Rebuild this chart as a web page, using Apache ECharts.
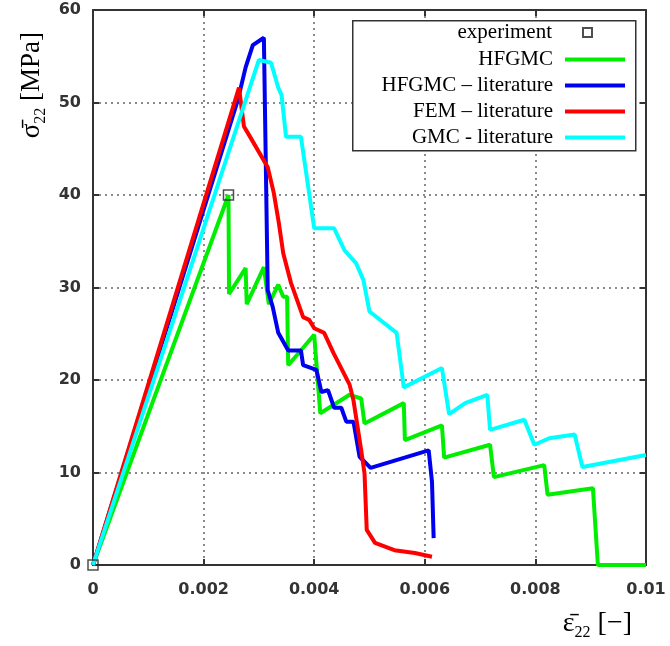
<!DOCTYPE html>
<html><head><meta charset="utf-8">
<script src="https://cdn.jsdelivr.net/npm/echarts@6/dist/echarts.min.js"></script>
<style>html,body{margin:0;padding:0;background:#fff}#c{width:670px;height:646px}</style>
</head><body><div id="c"></div>
<script>
// strain [-], stress [MPa]
const experiment = [[0, 0], [0.00245, 40]];
const hfgmc = [[0,0],[0.00245,40],[0.00246,29.3],[0.00276,32.1],[0.00278,28.2],[0.00309,32.2],[0.00318,28.2],[0.00335,30.3],[0.00344,29.0],[0.00351,29.0],[0.00353,21.6],[0.0040,24.9],[0.00411,16.4],[0.00464,18.4],[0.00485,18.0],[0.00491,15.3],[0.00562,17.5],[0.00564,13.5],[0.00631,15.1],[0.00635,11.6],[0.00718,13.0],[0.00725,9.5],[0.00816,10.8],[0.00822,7.6],[0.00904,8.3],[0.00913,0],[0.01,0]];
const hfgmcLit = [[0,0],[0.00262,50.3],[0.00276,53.8],[0.00289,56.2],[0.00309,57.0],[0.00316,29.7],[0.00325,27.9],[0.00335,25.1],[0.00353,23.2],[0.00376,23.2],[0.0038,21.6],[0.00404,21.1],[0.00413,18.7],[0.00425,18.9],[0.00436,17.0],[0.00449,17.0],[0.00458,15.5],[0.00471,15.5],[0.00482,11.7],[0.00502,10.5],[0.00607,12.4],[0.00613,9.0],[0.00616,2.9]];
const femLit = [[0,0],[0.00264,51.6],[0.00273,47.4],[0.00282,46.5],[0.00316,43.0],[0.00327,40.2],[0.00336,37.0],[0.00344,33.7],[0.00358,30.5],[0.0038,26.8],[0.00391,26.5],[0.0040,25.6],[0.00418,25.1],[0.00435,22.9],[0.00464,19.5],[0.00471,17.8],[0.00485,12.4],[0.00491,9.9],[0.00495,3.8],[0.0051,2.4],[0.00545,1.6],[0.00582,1.3],[0.00613,0.9]];
const gmcLit = [[0,0],[0.0030,54.6],[0.00322,54.3],[0.00335,51.6],[0.00341,50.8],[0.00349,46.3],[0.00376,46.3],[0.0040,36.4],[0.00436,36.4],[0.00455,34.0],[0.00476,32.6],[0.00489,30.8],[0.0050,27.4],[0.00549,25.1],[0.00562,19.2],[0.00631,21.3],[0.00644,16.3],[0.00673,17.5],[0.00713,18.4],[0.00718,14.6],[0.0078,15.7],[0.00798,13.0],[0.00825,13.7],[0.00871,14.1],[0.00885,10.6],[0.01,11.9]];
const seriesNames = ['experiment', 'HFGMC', 'HFGMC – literature', 'FEM – literature', 'GMC - literature'];
const colors = ['#000000', '#00ee00', '#0000f0', '#ff0000', '#00ffff'];
const xRange = [0, 0.01, 0.002];
const yRange = [0, 60, 10];

const chart = echarts.init(document.getElementById('c'), null, {renderer: 'canvas'});
const axisLineStyle = {color: '#333', width: 2};
const tickLabel = {color: '#333', fontFamily: 'DejaVu Sans', fontWeight: 'bold', fontSize: 16};
const serif = 'Liberation Serif';
function lineSeries(i, data) {
  return {name: seriesNames[i], type: 'line', data: data, symbol: 'none', showSymbol: false,
    lineStyle: {color: colors[i], width: 4}, itemStyle: {color: colors[i]}, animation: false};
}
chart.setOption({
  animation: false,
  backgroundColor: '#fff',
  grid: {left: 93, right: 24, top: 10, bottom: 81},
  graphic: [{type: 'rect', left: 352, top: 20, z: 3,
    shape: {width: 283, height: 130}, style: {fill: '#fff', stroke: '#333', lineWidth: 1.5}}],
  legend: [
    {data: [seriesNames[0]], orient: 'vertical', align: 'right', right: 77, top: 22, padding: 0,
     itemWidth: 9, itemHeight: 9, z: 5,
     textStyle: {fontFamily: serif, fontSize: 21, color: '#000', padding: [0, 26, 0, 0]}},
    {data: seriesNames.slice(1).map(n => ({name: n, icon: 'rect'})), orient: 'vertical', align: 'right', right: 45, top: 49, padding: 0,
     itemWidth: 60, itemHeight: 4, itemGap: 5, z: 5,
     textStyle: {fontFamily: serif, fontSize: 21, color: '#000', padding: [0, 7, 0, 0]}}
  ],
  xAxis: [
    {type: 'value', min: xRange[0], max: xRange[1], interval: xRange[2], position: 'bottom',
     axisLine: {show: true, onZero: false, lineStyle: axisLineStyle},
     axisTick: {show: true, inside: true, length: 6, lineStyle: axisLineStyle},
     axisLabel: Object.assign({margin: 17, formatter: v => String(+v.toFixed(4))}, tickLabel),
     splitLine: {show: true, lineStyle: {type: [2, 4], color: '#666', width: 1.5}},
     name: '{g|ε\u0304}{s|22}{g| [−]}', nameLocation: 'end', nameGap: -14, nameMoveOverlap: false,
     nameTextStyle: {align: 'right', verticalAlign: 'top', padding: [42, 0, 0, 0],
       rich: {g: {fontFamily: serif, fontSize: 28, color: '#000', lineHeight: 34},
              s: {fontFamily: serif, fontSize: 16, color: '#000', verticalAlign: 'bottom', lineHeight: 15}}}},
    {type: 'value', min: xRange[0], max: xRange[1], interval: xRange[2], position: 'top',
     axisLine: {show: true, onZero: false, lineStyle: axisLineStyle},
     axisTick: {show: true, inside: true, length: 6, lineStyle: axisLineStyle},
     axisLabel: {show: false}, splitLine: {show: false}}
  ],
  yAxis: [
    {type: 'value', min: yRange[0], max: yRange[1], interval: yRange[2], position: 'left',
     axisLine: {show: true, onZero: false, lineStyle: axisLineStyle},
     axisTick: {show: true, inside: true, length: 6, lineStyle: axisLineStyle},
     axisLabel: Object.assign({margin: 12}, tickLabel),
     splitLine: {show: true, lineStyle: {type: [2, 4], color: '#666', width: 1.5}},
     name: '{g|σ\u0304}{s|22}{g| [MPa]}', nameLocation: 'end', nameRotate: 90, nameGap: -22, nameMoveOverlap: false,
     nameTextStyle: {align: 'right', verticalAlign: 'bottom', padding: [0, 0, 44, 0],
       rich: {g: {fontFamily: serif, fontSize: 27, color: '#000', lineHeight: 34},
              s: {fontFamily: serif, fontSize: 16, color: '#000', verticalAlign: 'bottom', lineHeight: 15}}}},
    {type: 'value', min: yRange[0], max: yRange[1], interval: yRange[2], position: 'right',
     axisLine: {show: true, onZero: false, lineStyle: axisLineStyle},
     axisTick: {show: true, inside: true, length: 6, lineStyle: axisLineStyle},
     axisLabel: {show: false}, splitLine: {show: false}}
  ],
  series: [
    lineSeries(1, hfgmc),
    lineSeries(2, hfgmcLit),
    lineSeries(3, femLit),
    lineSeries(4, gmcLit),
    {name: seriesNames[0], type: 'scatter', data: experiment, symbol: 'rect', symbolSize: 10, z: 6,
     itemStyle: {color: 'rgba(255,255,255,0)', borderColor: '#222', borderWidth: 1.5}}
  ]
});
</script></body></html>
